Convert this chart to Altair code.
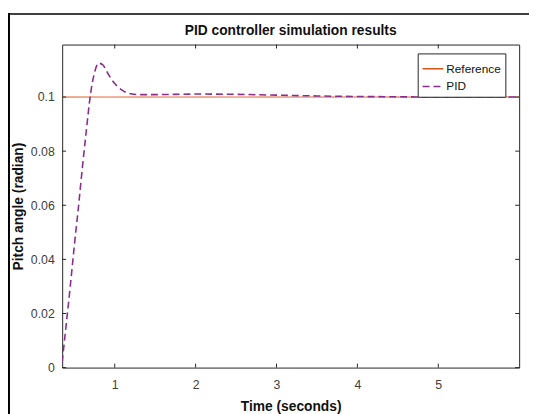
import altair as alt
import pandas as pd

# ---- data ----
t_pid = [0.35, 0.40, 0.45, 0.50, 0.55, 0.60, 0.65, 0.70, 0.75, 0.80, 0.85,
         0.90, 0.95, 1.00, 1.05, 1.10, 1.15, 1.20, 1.30, 1.50, 2.00, 2.50,
         3.00, 3.50, 4.00, 4.50, 5.00, 5.50, 6.00]
y_pid = [0.002, 0.016, 0.030, 0.045, 0.059, 0.074, 0.088, 0.101, 0.109, 0.1125,
         0.1120, 0.1095, 0.1070, 0.1050, 0.1035, 0.1024, 0.1016, 0.1012, 0.1009,
         0.1009, 0.1011, 0.1010, 0.1007, 0.1004, 0.1002, 0.1001, 0.1000, 0.1000, 0.1000]
t_ref = [0.35, 6.0]
y_ref = [0.1, 0.1]
series = ["Reference", "PID"]
series_colors = ["#D95319", "#8A2C8E"]
x_ticks = [1, 2, 3, 4, 5]
y_ticks = [0, 0.02, 0.04, 0.06, 0.08, 0.1]
x_domain = [0.35, 6.0]
y_domain = [0, 0.1194]

df = pd.concat([
    pd.DataFrame({"t": t_ref, "y": y_ref, "series": "Reference", "w": 1.0}),
    pd.DataFrame({"t": t_pid, "y": y_pid, "series": "PID", "w": 1.6}),
])
xt = pd.DataFrame({"t": x_ticks})
yt = pd.DataFrame({"y": y_ticks})

W, H = 464, 328
FONT = "Liberation Sans"
AX = "#262626"

xscale = alt.Scale(domain=x_domain, nice=False, zero=False)
yscale = alt.Scale(domain=y_domain, nice=False, zero=False)

lines = alt.Chart(df).mark_line(clip=True, interpolate="monotone").encode(
    x=alt.X("t:Q", scale=xscale,
            axis=alt.Axis(values=x_ticks, title="Time (seconds)", format="d", grid=False,
                          tickSize=0, labelPadding=11, titlePadding=9, domain=False)),
    y=alt.Y("y:Q", scale=yscale,
            axis=alt.Axis(values=y_ticks, title="Pitch angle (radian)", format=".2~f",
                          grid=False, tickSize=0, labelPadding=8, titlePadding=5,
                          domain=False)),
    color=alt.Color("series:N", scale=alt.Scale(domain=series, range=series_colors),
                    legend=alt.Legend(title=None, orient="none", legendX=361, legendY=9,
                                      symbolType="stroke", symbolSize=441,
                                      symbolStrokeWidth=1.5, labelFontSize=12,
                                      labelFont=FONT, labelColor="#111111",
                                      strokeColor=AX, fillColor="white", padding=4,
                                      rowPadding=-6, labelOffset=2, cornerRadius=0)),
    strokeDash=alt.StrokeDash("series:N",
                              scale=alt.Scale(domain=series, range=[[1, 0], [7, 4]]),
                              legend=alt.Legend(title=None)),
    strokeWidth=alt.StrokeWidth("w:Q", scale=None, legend=None),
    order=alt.Order("t:Q"),
)

xtick_bottom = alt.Chart(xt).mark_rule(color=AX, strokeWidth=1).encode(
    x=alt.X("t:Q", scale=xscale), y=alt.value(H), y2=alt.value(H - 4))
xtick_top = alt.Chart(xt).mark_rule(color=AX, strokeWidth=1).encode(
    x=alt.X("t:Q", scale=xscale), y=alt.value(0), y2=alt.value(4))
ytick_left = alt.Chart(yt).mark_rule(color=AX, strokeWidth=1).encode(
    y=alt.Y("y:Q", scale=yscale), x=alt.value(0), x2=alt.value(4))
ytick_right = alt.Chart(yt).mark_rule(color=AX, strokeWidth=1).encode(
    y=alt.Y("y:Q", scale=yscale), x=alt.value(W), x2=alt.value(W - 4))

# screenshot frame (left and top black border)
frame_left = alt.Chart(pd.DataFrame({"a": [0]})).mark_rule(color="black", strokeWidth=2).encode(
    x=alt.value(-54), y=alt.value(-32), y2=alt.value(H + 60))
frame_top = alt.Chart(pd.DataFrame({"a": [0]})).mark_rule(color="black", strokeWidth=1.5).encode(
    x=alt.value(-54), x2=alt.value(W + 20), y=alt.value(-31))

chart = alt.layer(
    lines, xtick_bottom, xtick_top, ytick_left, ytick_right, frame_left, frame_top
).properties(
    width=W, height=H,
    background="white",
    title=alt.TitleParams("PID controller simulation results", font=FONT, fontSize=14,
                          fontWeight="bold", color="#111111", anchor="middle",
                          offset=0, dy=26),
    autosize=alt.AutoSizeParams(type="none"),
    padding={"left": 55, "top": 34, "right": 10, "bottom": 44},
).configure_view(
    stroke=AX, strokeWidth=1
).configure_axis(
    grid=False, labelFont=FONT, labelFontSize=12.5, labelColor="#404040",
    titleFont=FONT, titleFontSize=14, titleFontWeight="bold", titleColor="#111111",
)

chart.save("out.html", embed_options={"renderer": "svg", "actions": False})
